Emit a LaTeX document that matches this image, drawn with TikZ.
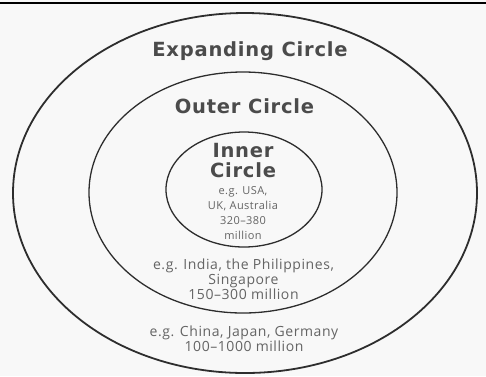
\documentclass[tikz,border=0pt]{standalone}
\usepackage{fontspec}
\setmainfont{Open Sans}
\newfontfamily\titlefont{DejaVu Sans}[LetterSpace=4]
\newfontfamily\notefont{Open Sans}[LetterSpace=4]
\usetikzlibrary{shapes.geometric}
\usepackage{xcolor}
\definecolor{ink}{RGB}{45,45,45}
\definecolor{label}{RGB}{75,75,75}
\definecolor{note}{RGB}{100,100,100}
\definecolor{paper}{RGB}{248,248,248}

\tikzset{
  ring/.style={draw=ink, ellipse, inner sep=0pt},
  title/.style={text=label, font=\titlefont\bfseries\fontsize{19.5}{20}\selectfont, align=center, anchor=base, inner sep=0pt},
  example/.style={text=note, font=\notefont\fontsize{14}{14.7}\selectfont, align=center, anchor=base, inner sep=0pt}
}

\begin{document}
\begin{tikzpicture}[x=1pt,y=-1pt]
\useasboundingbox (0,0) rectangle (486,376);
\fill[paper] (0,0) rectangle (486,376);
\draw[black, line width=2pt] (0,3) -- (486,3);

% the three circles
\node[ring, line width=1.8pt, minimum width=464pt, minimum height=360pt] (expanding) at (245,193) {};
\node[ring, line width=1.3pt, minimum width=308pt, minimum height=241pt] (outer) at (243,192.5) {};
\node[ring, line width=1.3pt, minimum width=156pt, minimum height=115pt] (inner) at (244,189.5) {};

% labels (anchored on the baseline of their last line)
\node[title] (expandinglabel) at (250,56.7) {Expanding Circle};
\node[title] (outerlabel) at (244.5,113) {Outer Circle};
\node[title] (innerlabel) at (243,177) {Inner\\Circle};

\node[example, font=\notefont\fontsize{11}{15}\selectfont] (innernote) at (243,239) {e.g. USA,\\UK, Australia\\320–380\\million};
\node[example] (outernote) at (243.5,299.3) {e.g. India, the Philippines,\\Singapore\\150–300 million};
\node[example] (expandingnote) at (244,351) {e.g. China, Japan, Germany\\100–1000 million};
\end{tikzpicture}
\end{document}
